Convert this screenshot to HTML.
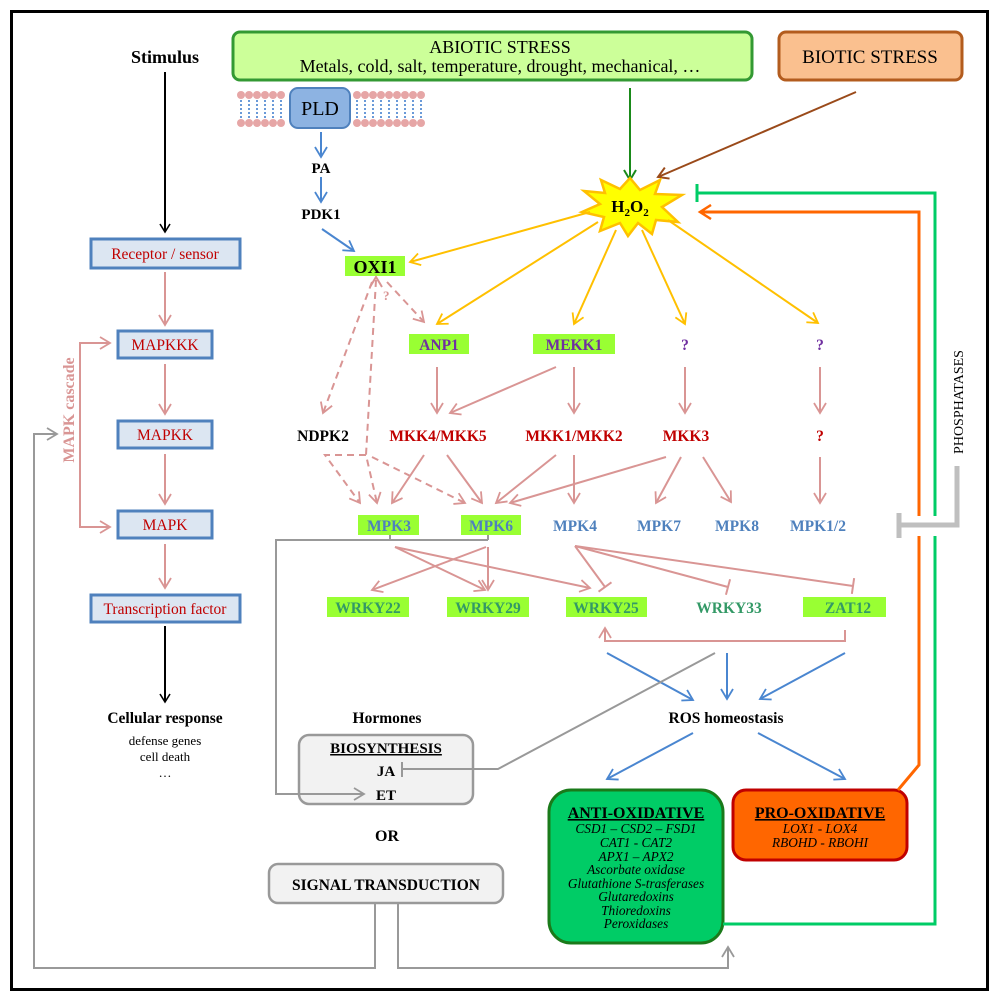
<!DOCTYPE html>
<html><head><meta charset="utf-8"><style>
body{margin:0;background:#fff}
svg{display:block}
text{font-family:"Liberation Serif",serif}
.b{font-weight:bold}
</style></head><body>
<svg width="997" height="1000" viewBox="0 0 997 1000" xmlns="http://www.w3.org/2000/svg">
<defs>
<marker id="ak" markerWidth="12" markerHeight="12" refX="9" refY="6" orient="auto" markerUnits="userSpaceOnUse"><path d="M1,1 L9,6 L1,11" fill="none" stroke="#000" stroke-width="1.6"/></marker>
<marker id="ap" markerWidth="14" markerHeight="14" refX="11" refY="7" orient="auto" markerUnits="userSpaceOnUse"><path d="M1,1 L11,7 L1,13" fill="none" stroke="#d99594" stroke-width="1.8"/></marker>
<marker id="ab" markerWidth="14" markerHeight="14" refX="11" refY="7" orient="auto" markerUnits="userSpaceOnUse"><path d="M1,1 L11,7 L1,13" fill="none" stroke="#4a86d0" stroke-width="1.8"/></marker>
<marker id="ay" markerWidth="14" markerHeight="14" refX="11" refY="7" orient="auto" markerUnits="userSpaceOnUse"><path d="M1,1 L11,7 L1,13" fill="none" stroke="#ffc000" stroke-width="1.8"/></marker>
<marker id="ag" markerWidth="14" markerHeight="14" refX="11" refY="7" orient="auto" markerUnits="userSpaceOnUse"><path d="M1,1 L11,7 L1,13" fill="none" stroke="#1a8a1a" stroke-width="2"/></marker>
<marker id="abr" markerWidth="14" markerHeight="14" refX="11" refY="7" orient="auto" markerUnits="userSpaceOnUse"><path d="M1,1 L11,7 L1,13" fill="none" stroke="#9a4a1a" stroke-width="2"/></marker>
<marker id="ao" markerWidth="16" markerHeight="16" refX="12" refY="8" orient="auto" markerUnits="userSpaceOnUse"><path d="M1,1 L12,8 L1,15" fill="none" stroke="#ff6600" stroke-width="2.5"/></marker>
<marker id="agr" markerWidth="14" markerHeight="14" refX="11" refY="7" orient="auto" markerUnits="userSpaceOnUse"><path d="M1,1 L11,7 L1,13" fill="none" stroke="#999" stroke-width="1.8"/></marker>
<marker id="tp" markerWidth="4" markerHeight="18" refX="2" refY="9" orient="auto" markerUnits="userSpaceOnUse"><path d="M2,1 L2,17" stroke="#d99594" stroke-width="2"/></marker>
</defs>
<rect x="11.5" y="11.5" width="976" height="978" fill="#fff" stroke="#000" stroke-width="3"/>

<!-- left column -->
<text x="165" y="63" text-anchor="middle" class="b" font-size="18">Stimulus</text>
<line x1="165" y1="72" x2="165" y2="232" stroke="#000" stroke-width="2" marker-end="url(#ak)"/>
<g font-size="15.5" fill="#c00000" text-anchor="middle">
<rect x="91" y="239" width="149" height="29" fill="#dce6f2" stroke="#4f81bd" stroke-width="3"/><text x="165" y="259">Receptor / sensor</text>
<rect x="118" y="331" width="94" height="27" fill="#dce6f2" stroke="#4f81bd" stroke-width="3"/><text x="165" y="350">MAPKKK</text>
<rect x="118" y="421" width="94" height="27" fill="#dce6f2" stroke="#4f81bd" stroke-width="3"/><text x="165" y="440">MAPKK</text>
<rect x="118" y="511" width="94" height="27" fill="#dce6f2" stroke="#4f81bd" stroke-width="3"/><text x="165" y="530">MAPK</text>
<rect x="91" y="595" width="149" height="27" fill="#dce6f2" stroke="#4f81bd" stroke-width="3"/><text x="165" y="614">Transcription factor</text>
</g>
<g stroke="#d99594" stroke-width="2" fill="none">
<line x1="165" y1="272" x2="165" y2="325" marker-end="url(#ap)"/>
<line x1="165" y1="364" x2="165" y2="414" marker-end="url(#ap)"/>
<line x1="165" y1="454" x2="165" y2="504" marker-end="url(#ap)"/>
<line x1="165" y1="544" x2="165" y2="588" marker-end="url(#ap)"/>
<path d="M110,343 H80 V527 H110" marker-end="url(#ap)"/>
<line x1="80" y1="343" x2="110" y2="343" marker-end="url(#ap)"/>
</g>
<text transform="translate(74,410) rotate(-90)" text-anchor="middle" class="b" font-size="16" fill="#d99594">MAPK cascade</text>
<line x1="165" y1="626" x2="165" y2="702" stroke="#000" stroke-width="2" marker-end="url(#ak)"/>
<text x="165" y="723" text-anchor="middle" class="b" font-size="15.5">Cellular response</text>
<text x="165" y="745" text-anchor="middle" font-size="13">defense genes</text>
<text x="165" y="761" text-anchor="middle" font-size="13">cell death</text>
<text x="165" y="777" text-anchor="middle" font-size="13">…</text>

<!-- stress boxes -->
<rect x="233" y="32" width="519" height="48" rx="7" fill="#ccff99" stroke="#339933" stroke-width="3"/>
<text x="500" y="53" text-anchor="middle" font-size="18">ABIOTIC STRESS</text>
<text x="500" y="72" text-anchor="middle" font-size="18">Metals, cold, salt, temperature, drought, mechanical, …</text>
<rect x="779" y="32" width="183" height="48" rx="7" fill="#fac08f" stroke="#b35c1e" stroke-width="3"/>
<text x="870" y="63" text-anchor="middle" font-size="19">BIOTIC STRESS</text>

<!-- membrane -->
<g>
<g fill="#e6a6a6">
<circle cx="241" cy="95" r="4"/><circle cx="249" cy="95" r="4"/><circle cx="257" cy="95" r="4"/><circle cx="265" cy="95" r="4"/><circle cx="273" cy="95" r="4"/><circle cx="281" cy="95" r="4"/>
<circle cx="241" cy="123" r="4"/><circle cx="249" cy="123" r="4"/><circle cx="257" cy="123" r="4"/><circle cx="265" cy="123" r="4"/><circle cx="273" cy="123" r="4"/><circle cx="281" cy="123" r="4"/>
<circle cx="357" cy="95" r="4"/><circle cx="365" cy="95" r="4"/><circle cx="373" cy="95" r="4"/><circle cx="381" cy="95" r="4"/><circle cx="389" cy="95" r="4"/><circle cx="397" cy="95" r="4"/><circle cx="405" cy="95" r="4"/><circle cx="413" cy="95" r="4"/><circle cx="421" cy="95" r="4"/>
<circle cx="357" cy="123" r="4"/><circle cx="365" cy="123" r="4"/><circle cx="373" cy="123" r="4"/><circle cx="381" cy="123" r="4"/><circle cx="389" cy="123" r="4"/><circle cx="397" cy="123" r="4"/><circle cx="405" cy="123" r="4"/><circle cx="413" cy="123" r="4"/><circle cx="421" cy="123" r="4"/>
</g>
<path d="M241,100 V118 M249,100 V118 M257,100 V118 M265,100 V118 M273,100 V118 M281,100 V118 M357,100 V118 M365,100 V118 M373,100 V118 M381,100 V118 M389,100 V118 M397,100 V118 M405,100 V118 M413,100 V118 M421,100 V118" stroke="#6a9ad8" stroke-width="2" stroke-dasharray="2,2"/>
<rect x="290" y="88" width="60" height="40" rx="8" fill="#8db3e2" stroke="#4f81bd" stroke-width="2"/>
<text x="320" y="115" text-anchor="middle" font-size="20">PLD</text>
</g>
<g stroke="#4a86d0" stroke-width="2" fill="none">
<line x1="321" y1="132" x2="321" y2="157" marker-end="url(#ab)"/>
<line x1="321" y1="177" x2="321" y2="202" marker-end="url(#ab)"/>
<line x1="322" y1="229" x2="354" y2="251" marker-end="url(#ab)"/>
</g>
<text x="321" y="173" text-anchor="middle" class="b" font-size="15">PA</text>
<text x="321" y="219" text-anchor="middle" class="b" font-size="15">PDK1</text>

<!-- H2O2 -->
<line x1="630" y1="88" x2="630" y2="180" stroke="#1a8a1a" stroke-width="2" marker-end="url(#ag)"/>
<line x1="856" y1="92" x2="658" y2="177" stroke="#9a4a1a" stroke-width="2" marker-end="url(#abr)"/>
<polygon points="630,178 640,190 660,180 655,194 682,195 662,207 678,222 656,220 652,234 638,223 628,236 620,223 600,231 604,217 582,212 600,204 584,191 605,193 601,180 620,189" fill="#ffff00" stroke="#ffc000" stroke-width="2.5"/>
<text x="630" y="212" text-anchor="middle" class="b" font-size="17">H<tspan font-size="11" dy="4">2</tspan><tspan dy="-4">O</tspan><tspan font-size="11" dy="4">2</tspan></text>
<g stroke="#ffc000" stroke-width="2" fill="none">
<line x1="590" y1="212" x2="410" y2="262" marker-end="url(#ay)"/>
<line x1="598" y1="222" x2="437" y2="324" marker-end="url(#ay)"/>
<line x1="616" y1="230" x2="574" y2="324" marker-end="url(#ay)"/>
<line x1="642" y1="230" x2="685" y2="324" marker-end="url(#ay)"/>
<line x1="668" y1="220" x2="818" y2="323" marker-end="url(#ay)"/>
</g>

<!-- green boxes -->
<g fill="#99ff33">
<rect x="345" y="256" width="60" height="20"/>
<rect x="409" y="334" width="60" height="20"/>
<rect x="533" y="334" width="82" height="20"/>
<rect x="358" y="515" width="61" height="20"/>
<rect x="461" y="515" width="60" height="20"/>
<rect x="327" y="597" width="82" height="20"/>
<rect x="447" y="597" width="82" height="20"/>
<rect x="566" y="597" width="81" height="20"/>
<rect x="803" y="597" width="83" height="20"/>
</g>
<text x="375" y="273" text-anchor="middle" class="b" font-size="18">OXI1</text>
<g class="b" font-size="15.5" text-anchor="middle" fill="#7030a0">
<text x="439" y="350">ANP1</text><text x="574" y="350">MEKK1</text><text x="685" y="350">?</text><text x="820" y="350">?</text>
</g>
<g class="b" font-size="15.5" text-anchor="middle" fill="#c00000">
<text x="323" y="441" fill="#000">NDPK2</text><text x="438" y="441">MKK4/MKK5</text><text x="574" y="441">MKK1/MKK2</text><text x="686" y="441">MKK3</text><text x="820" y="441">?</text>
</g>
<g class="b" font-size="15.5" text-anchor="middle" fill="#4f81bd">
<text x="389" y="531">MPK3</text><text x="491" y="531">MPK6</text><text x="575" y="531">MPK4</text><text x="659" y="531">MPK7</text><text x="737" y="531">MPK8</text><text x="818" y="531">MPK1/2</text>
</g>
<g class="b" font-size="15.5" text-anchor="middle" fill="#339966">
<text x="368" y="613">WRKY22</text><text x="488" y="613">WRKY29</text><text x="606" y="613">WRKY25</text><text x="729" y="613">WRKY33</text><text x="848" y="613">ZAT12</text>
</g>

<!-- pink solid arrows -->
<g stroke="#d99594" stroke-width="2" fill="none" marker-end="url(#ap)">
<line x1="437" y1="367" x2="437" y2="413"/>
<line x1="556" y1="367" x2="450" y2="413"/>
<line x1="574" y1="367" x2="574" y2="413"/>
<line x1="685" y1="367" x2="685" y2="413"/>
<line x1="820" y1="367" x2="820" y2="413"/>
<line x1="820" y1="457" x2="820" y2="503"/>
<line x1="424" y1="455" x2="392" y2="503"/>
<line x1="447" y1="455" x2="482" y2="503"/>
<line x1="556" y1="455" x2="496" y2="503"/>
<line x1="574" y1="455" x2="574" y2="503"/>
<line x1="666" y1="457" x2="510" y2="503"/>
<line x1="681" y1="457" x2="656" y2="503"/>
<line x1="703" y1="457" x2="731" y2="502"/>
<line x1="395" y1="547" x2="485" y2="590"/>
<line x1="395" y1="547" x2="590" y2="588"/>
<line x1="486" y1="547" x2="372" y2="590"/>
<line x1="488" y1="547" x2="488" y2="590"/>
<path d="M845,630 V641 H605 V628"/>
</g>
<g stroke="#d99594" stroke-width="2" fill="none" marker-end="url(#tp)">
<line x1="575" y1="546" x2="605" y2="587"/>
<line x1="575" y1="546" x2="728" y2="587"/>
<line x1="575" y1="546" x2="853" y2="586"/>
</g>
<!-- pink dashed -->
<g stroke="#d99594" stroke-width="2" fill="none" stroke-dasharray="7,5" marker-end="url(#ap)">
<line x1="372" y1="282" x2="323" y2="413"/>
<line x1="387" y1="282" x2="424" y2="322"/>
<polyline points="376,280 366,455 377,503"/>
<polyline points="366,455 325,455 360,503"/>
<line x1="372" y1="457" x2="465" y2="503"/>
</g>
<path d="M370,287 L376,277 L382,287" fill="none" stroke="#d99594" stroke-width="2"/>
<text x="383" y="300" font-size="13" fill="#d99594" class="b">?</text>

<!-- blue to ROS -->
<g stroke="#4a86d0" stroke-width="2" fill="none" marker-end="url(#ab)">
<line x1="607" y1="653" x2="693" y2="700"/>
<line x1="727" y1="653" x2="727" y2="699"/>
<line x1="845" y1="653" x2="760" y2="699"/>
<line x1="693" y1="733" x2="607" y2="779"/>
<line x1="758" y1="733" x2="845" y2="779"/>
</g>
<text x="726" y="723" text-anchor="middle" class="b" font-size="15.5">ROS homeostasis</text>

<!-- hormones -->
<text x="387" y="723" text-anchor="middle" class="b" font-size="15.5">Hormones</text>
<rect x="299" y="735" width="174" height="69" rx="10" fill="#f2f2f2" stroke="#999" stroke-width="2.5"/>
<text x="386" y="753" text-anchor="middle" class="b" font-size="15" text-decoration="underline">BIOSYNTHESIS</text>
<text x="386" y="776" text-anchor="middle" class="b" font-size="15">JA</text>
<text x="386" y="800" text-anchor="middle" class="b" font-size="15">ET</text>
<text x="387" y="841" text-anchor="middle" class="b" font-size="16">OR</text>
<rect x="269" y="864" width="234" height="39" rx="9" fill="#f2f2f2" stroke="#999" stroke-width="2.5"/>
<text x="386" y="890" text-anchor="middle" class="b" font-size="15.5">SIGNAL TRANSDUCTION</text>

<!-- gray lines -->
<g stroke="#999" stroke-width="2" fill="none">
<path d="M390,535 V540 M488,535 V540 M488,540 H276 V794 H364" marker-end="url(#agr)"/>
<path d="M715,653 L498,769 H402"/>
<line x1="402" y1="762" x2="402" y2="777"/>
<path d="M375,903 V968 H34 V434 H57" marker-end="url(#agr)"/>
<path d="M398,903 V968 H728 V947" marker-end="url(#agr)"/>
</g>

<!-- oxidative boxes -->
<rect x="549" y="790" width="174" height="153" rx="22" fill="#00cc66" stroke="#1a7a1a" stroke-width="3"/>
<text x="636" y="818" text-anchor="middle" class="b" font-size="16" text-decoration="underline">ANTI-OXIDATIVE</text>
<g font-size="13.3" font-style="italic" text-anchor="middle">
<text x="636" y="833">CSD1 – CSD2 – FSD1</text>
<text x="636" y="847">CAT1 - CAT2</text>
<text x="636" y="861">APX1 – APX2</text>
<text x="636" y="874">Ascorbate oxidase</text>
<text x="636" y="888">Glutathione S-trasferases</text>
<text x="636" y="901">Glutaredoxins</text>
<text x="636" y="915">Thioredoxins</text>
<text x="636" y="928">Peroxidases</text>
</g>
<rect x="733" y="790" width="174" height="70" rx="13" fill="#ff6600" stroke="#c00000" stroke-width="3"/>
<text x="820" y="818" text-anchor="middle" class="b" font-size="16" text-decoration="underline">PRO-OXIDATIVE</text>
<text x="820" y="833" text-anchor="middle" font-size="13.3" font-style="italic">LOX1 - LOX4</text>
<text x="820" y="847" text-anchor="middle" font-size="13.3" font-style="italic">RBOHD - RBOHI</text>

<!-- feedback lines -->
<path d="M723,924 H935 V193 H697" stroke="#00cc66" stroke-width="3" fill="none"/>
<line x1="697" y1="184" x2="697" y2="202" stroke="#00cc66" stroke-width="3"/>
<path d="M898,790 L919,765 V212 H700" stroke="#ff6600" stroke-width="3" fill="none" marker-end="url(#ao)"/>
<rect x="912" y="516" width="30" height="20" fill="#fff"/>
<path d="M957,466 V525 H899" stroke="#bfbfbf" stroke-width="5" fill="none"/>
<line x1="899" y1="513" x2="899" y2="538" stroke="#bfbfbf" stroke-width="5"/>
<text transform="translate(963,402) rotate(-90)" text-anchor="middle" font-size="14">PHOSPHATASES</text>
</svg>
</body></html>
